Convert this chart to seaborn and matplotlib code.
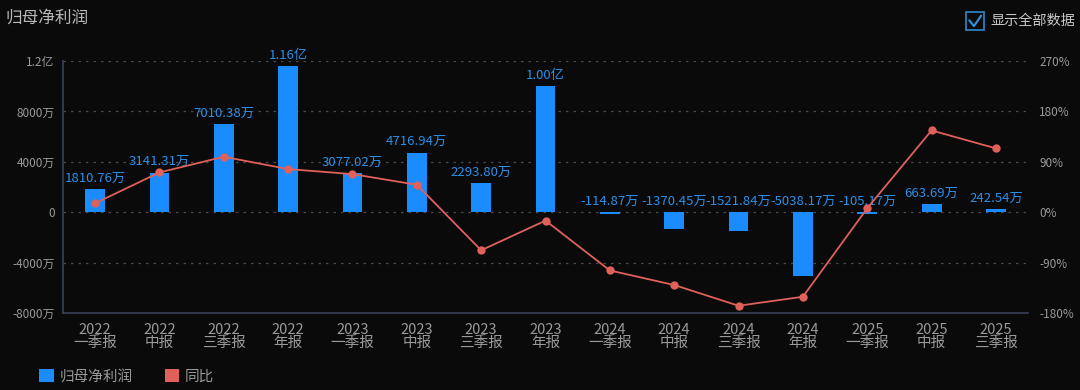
import numpy as np
import matplotlib
matplotlib.use('Agg')
import matplotlib.pyplot as plt
from matplotlib.patches import Patch, Rectangle
from matplotlib.lines import Line2D
import seaborn as sns

# data
periods = ['2022\n一季报', '2022\n中报', '2022\n三季报', '2022\n年报',
           '2023\n一季报', '2023\n中报', '2023\n三季报', '2023\n年报',
           '2024\n一季报', '2024\n中报', '2024\n三季报', '2024\n年报',
           '2025\n一季报', '2025\n中报', '2025\n三季报']
profit_wan = [1810.76, 3141.31, 7010.38, 11600.0, 3077.02, 4716.94, 2293.80, 10000.0,
              -114.87, -1370.45, -1521.84, -5038.17, -105.17, 663.69, 242.54]
profit_labels = ['1810.76万', '3141.31万', '7010.38万', '1.16亿', '3077.02万', '4716.94万',
                 '2293.80万', '1.00亿', '-114.87万', '-1370.45万', '-1521.84万', '-5038.17万',
                 '-105.17万', '663.69万', '242.54万']
yoy_pct = [16, 71, 99, 77, 68, 49, -68, -15, -104, -130, -167, -151, 7, 146, 114]

left_ticks = [12000, 8000, 4000, 0, -4000, -8000]
left_tick_labels = ['1.2亿', '8000万', '4000万', '0', '-4000万', '-8000万']
right_ticks = [270, 180, 90, 0, -90, -180]

BG = '#0a0a0a'
BLUE = '#1a8cff'
RED = '#e0605a'
GRAY = '#9a9a9a'

sns.set_theme(style='dark')
plt.rcParams['font.family'] = ['Noto Sans CJK SC', 'DejaVu Sans']
plt.rcParams['axes.unicode_minus'] = False

fig = plt.figure(figsize=(10.8, 3.9), dpi=100, facecolor=BG)
ax = fig.add_axes([0.0583, 0.1974, 0.8936, 0.6462])
ax.set_facecolor(BG)

x = np.arange(len(periods))
sns.barplot(x=x, y=profit_wan, color=BLUE, saturation=1, width=0.31, ax=ax,
            edgecolor='none', linewidth=0, zorder=2)

# value labels
for i, (v, lab) in enumerate(zip(profit_wan, profit_labels)):
    yy = max(v, 0) + 350
    ax.text(i, yy, lab, ha='center', va='bottom', color='#2b8fe6', fontsize=9.5,
            fontweight='medium', zorder=5)

ax.set_ylim(-8000, 12000)
ax.set_yticks(left_ticks)
ax.set_yticklabels(left_tick_labels)
ax.set_xlim(-0.5, len(periods) - 0.5)
ax.set_xticks(x)
ax.set_xticklabels(periods, linespacing=0.95)
ax.tick_params(axis='x', colors=GRAY, labelsize=10.5, length=0, pad=7)
ax.tick_params(axis='y', colors=GRAY, labelsize=8.5, length=0, pad=6)
ax.grid(False)
for t in left_ticks:
    if t != -8000:
        ax.axhline(t, color='#4a4a4a', lw=0.9, ls=(0, (2, 4)), zorder=1)
for s in ['top', 'right']:
    ax.spines[s].set_visible(False)
for s in ['left', 'bottom']:
    ax.spines[s].set_visible(True)
    ax.spines[s].set_color('#3a4256')
    ax.spines[s].set_linewidth(1.2)

# yoy line on the right axis
ax2 = ax.twinx()
sns.lineplot(x=x, y=yoy_pct, ax=ax2, color=RED, lw=1.3, marker='o', markersize=6,
             markeredgewidth=0, sort=False, zorder=4)
ax2.set_ylim(-180, 270)
ax2.set_yticks(right_ticks)
ax2.set_yticklabels([f'{t}%' for t in right_ticks])
ax2.tick_params(axis='y', colors=GRAY, labelsize=8.5, length=0, pad=8)
ax2.grid(False)
for s in ax2.spines.values():
    s.set_visible(False)
ax2.set_ylabel('')

# title and checkbox
fig.text(0.005, 0.953, '归母净利润', color='#b8b8b8', fontsize=12, ha='left', va='center')
fig.patches.append(Rectangle((0.8945, 0.922), 0.0165, 0.046, transform=fig.transFigure,
                             facecolor='none', edgecolor='#2a7fc0', lw=1.3))
fig.lines.append(Line2D([0.8975, 0.9018, 0.9085], [0.948, 0.933, 0.960],
                        transform=fig.transFigure, color='#2f95e0', lw=1.5))
fig.text(0.917, 0.945, '显示全部数据', color='#c8c8c8', fontsize=10.2, ha='left', va='center')

# legend
handles = [Patch(facecolor=BLUE, edgecolor='none', label='归母净利润'),
           Patch(facecolor=RED, edgecolor='none', label='同比')]
leg = fig.legend(handles=handles, loc='center left', bbox_to_anchor=(0.024, 0.035),
                 ncol=2, frameon=False, handlelength=1.0, handleheight=1.0,
                 handletextpad=0.4, columnspacing=2.2, fontsize=10.5)
for t in leg.get_texts():
    t.set_color(GRAY)

plt.savefig('out.png', dpi=100, facecolor=BG)
